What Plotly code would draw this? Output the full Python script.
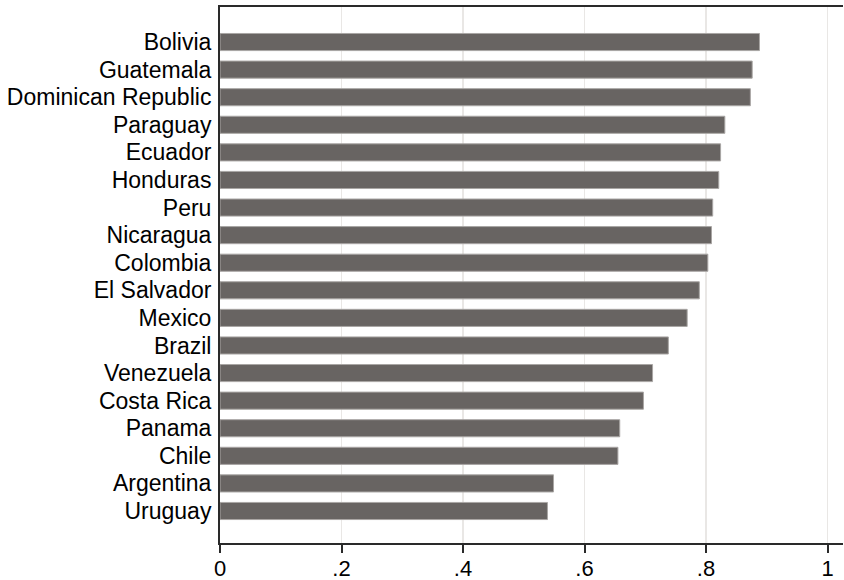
import plotly.graph_objects as go

countries = ["Bolivia", "Guatemala", "Dominican Republic", "Paraguay", "Ecuador",
             "Honduras", "Peru", "Nicaragua", "Colombia", "El Salvador", "Mexico",
             "Brazil", "Venezuela", "Costa Rica", "Panama", "Chile", "Argentina", "Uruguay"]
values = [0.888, 0.876, 0.873, 0.831, 0.824, 0.821, 0.811, 0.809, 0.803, 0.789,
          0.769, 0.738, 0.712, 0.697, 0.658, 0.655, 0.549, 0.539]
x_ticks = [0, 0.2, 0.4, 0.6, 0.8, 1]
x_tick_labels = ["0", ".2", ".4", ".6", ".8", "1"]

fig = go.Figure(go.Bar(
    x=values, y=countries, orientation="h",
    marker=dict(color="#686462", line=dict(color="#a9a6a4", width=1)),
    width=0.62, hoverinfo="skip",
))

fig.update_layout(
    width=844, height=580,
    margin=dict(l=220, r=1, t=7, b=37, autoexpand=False),
    plot_bgcolor="white", paper_bgcolor="white",
    font=dict(family="Liberation Sans, Arial, Helvetica, sans-serif", size=23, color="black"),
    showlegend=False,
)
fig.update_xaxes(
    range=[0, 1.0255], tickvals=x_ticks, ticktext=x_tick_labels,
    tickfont=dict(size=22),
    showgrid=True, gridcolor="#e9e7e5", gridwidth=1.5,
    showline=True, linecolor="#2a2a2a", linewidth=2, mirror=True,
    ticks="outside", ticklen=8, tickwidth=2, tickcolor="#2a2a2a",
    ticklabelstandoff=-3,
    zeroline=False, automargin=False,
)
fig.update_yaxes(
    categoryorder="array", categoryarray=countries,
    tickmode="array", tickvals=countries, ticktext=countries,
    range=[17 + 1.16, -1.27],
    showgrid=False, showline=True, linecolor="#2a2a2a", linewidth=2,
    ticks="", ticklabelstandoff=2, zeroline=False, automargin=False,
)

fig.write_html("out.html",
               config={"displayModeBar": False, "staticPlot": True},
               post_script="document.body.style.margin='0';document.body.style.overflow='hidden';")
